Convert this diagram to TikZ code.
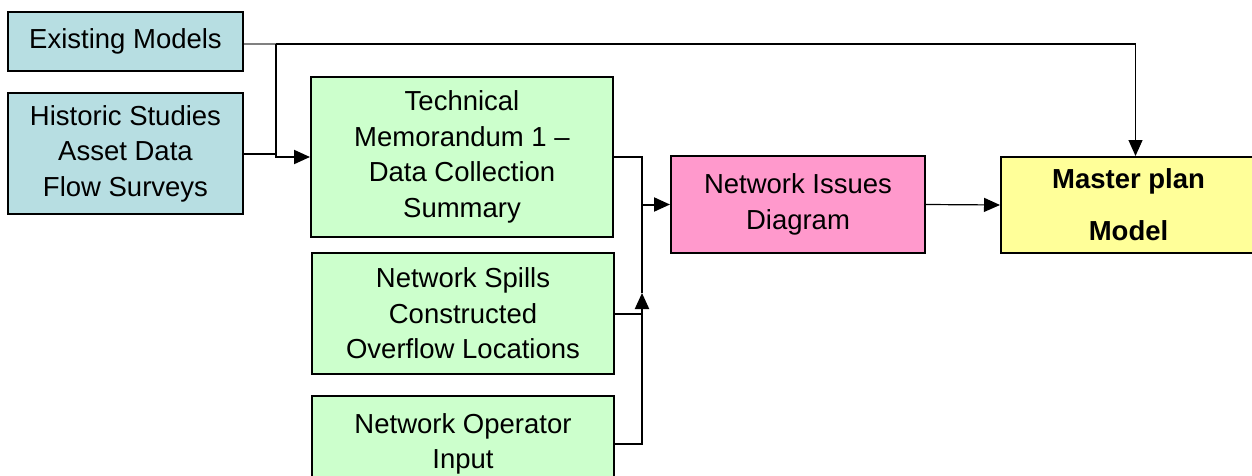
\documentclass[tikz,border=0pt]{standalone}
\usepackage{fontspec}
\setmainfont{Liberation Sans}
\usetikzlibrary{calc,arrows.meta}

\definecolor{srcblue}{RGB}{183,222,226}
\definecolor{memogreen}{RGB}{204,255,204}
\definecolor{issuepink}{RGB}{255,153,204}
\definecolor{planyellow}{RGB}{255,255,153}

\begin{document}
\begin{tikzpicture}[
  x=1pt, y=-1pt,
  every node/.style={rectangle, draw, line width=2pt, align=center, inner sep=0pt,
    font=\fontsize{27.5}{35.5}\selectfont},
  srcbox/.style={fill=srcblue, minimum width=235pt},
  memobox/.style={fill=memogreen, minimum width=302pt},
  feed/.style={line width=2pt},
  link/.style={line width=1.2pt},
  tip/.style={-{Triangle[length=16pt,width=14pt]}}
]
\useasboundingbox (0,0) rectangle (1252,476);

% inputs
\node[srcbox, minimum height=59pt] (exist) at (125.5,41.5) {Existing Models};
\node[srcbox, minimum height=121pt] (hist) at (125.5,153.5)
  {Historic Studies\\Asset Data\\Flow Surveys};

\node[memobox, minimum height=160pt] (memo) at (462,157)
  {Technical\\Memorandum 1 --\\Data Collection\\Summary};
\node[memobox, minimum height=121pt] (spills) at (463,313.5)
  {Network Spills\\Constructed\\Overflow Locations};
\node[memobox, minimum height=96pt] (oper) at (463,444)
  {Network Operator\\Input};

\node[fill=issuepink, minimum width=254pt, minimum height=97pt] (issues) at (798,204.5)
  {Network Issues\\Diagram};
\node[fill=planyellow, minimum width=255pt, minimum height=96pt,
  font=\fontsize{27.5}{52}\selectfont\bfseries] (master) at (1128.5,205)
  {Master plan\\Model};

\coordinate (j1) at (276,44);
\coordinate (j2) at (642,293);

% connectors
\draw[gray, line width=2.5pt] (exist.east |- j1) -- (j1);
\draw[link, tip] (j1) -| ([xshift=7pt]master.north);
\draw[feed, tip] (j1) |- (memo.west);
\draw[feed] (hist.east) -- (hist.east -| j1);

\draw[feed, tip] (memo.east) -| (j2 |- issues.west) -- (issues.west);
\draw[link] (j2) -- (j2 |- issues.west);
\draw[feed] (spills.east) -- (spills.east -| j2);
\draw[feed, tip] (oper.east) -| (j2);

\draw[link, tip] (issues.east) -- (master.west);
\end{tikzpicture}
\end{document}
